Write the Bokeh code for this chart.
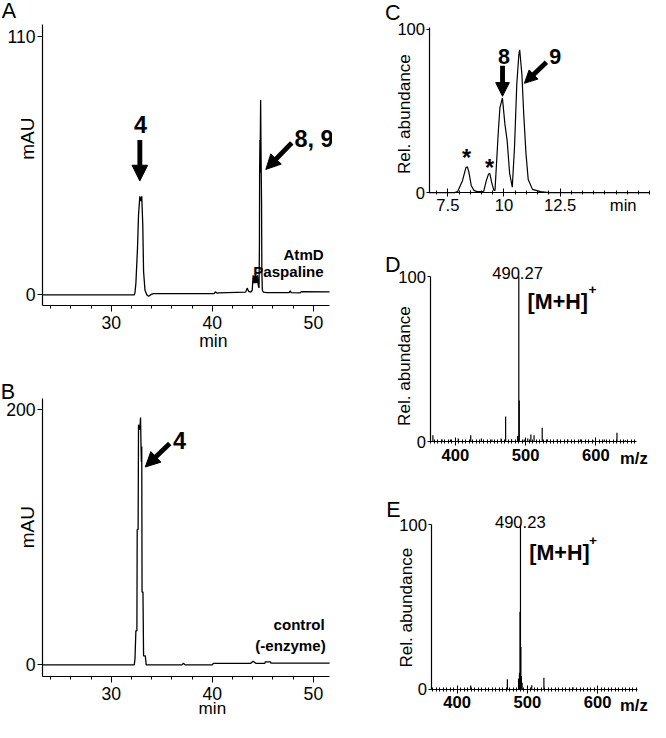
import math
from bokeh.plotting import figure
from bokeh.layouts import row, column
from bokeh.models import Range1d, FixedTicker, Label, Arrow, NormalHead
from bokeh.embed import file_html
from bokeh.resources import INLINE

S = 650 / 666
FONT = "Liberation Sans"

# ---------------- data ----------------
# Panel A: AtmD + paspaline HPLC trace (min, mAU)
a_time = [23.2, 32.28, 32.35, 32.44, 32.6, 32.7, 32.83, 32.92, 33.02, 33.12, 33.2, 33.34, 33.53, 33.7, 33.95,
          34.2, 40.2, 40.3, 40.45, 40.6, 43.3, 43.45, 43.6, 43.8, 43.95, 44.04, 44.12, 44.2, 44.27, 44.35, 44.42,
          44.46, 44.55, 44.62, 44.66, 44.68, 44.71, 44.73, 44.75, 44.78, 44.81, 44.84, 44.87, 44.9, 44.95, 45.05,
          45.4, 47.6, 47.7, 47.8, 48.7, 48.8, 51.6]
a_mau = [0.0, 0.0, 1.0, 5.0, 20.0, 34.0, 42.0, 40.0, 42.0, 30.0, 10.0, 2.0, 0.0, -0.6, 0.2,
         0.6, 0.6, 1.3, 0.8, 0.9, 1.2, 2.9, 1.5, 1.2, 2.0, 8.4, 5.0, 8.0, 5.0, 8.0, 5.0,
         8.4, 4.0, 3.0, 20.0, 52.0, 66.0, 52.0, 66.0, 83.0, 66.0, 52.0, 40.0, 10.0, 2.0, 1.2,
         1.0, 1.0, 1.8, 1.0, 0.9, 1.4, 1.3]

# Panel B: control (-enzyme) HPLC trace (min, mAU)
b_time = [23.2, 32.28, 32.35, 32.44, 32.54, 32.57, 32.66, 32.7, 32.83, 32.9, 32.95, 32.98, 33.02, 33.05, 33.14,
          33.2, 33.37, 33.46, 37.0, 37.15, 37.3, 40.0, 40.1, 43.8, 44.04, 44.3, 45.2, 45.25, 45.75, 45.8, 51.6]
b_mau = [0.0, 0.0, 4.6, 26.7, 26.7, 106.0, 106.0, 188.0, 184.0, 193.6, 171.0, 159.0, 171.0, 57.0, 57.0,
         7.0, 7.0, 0.0, 0.0, 1.3, 0.0, 0.0, 1.2, 1.2, 2.8, 1.2, 1.2, 2.4, 2.4, 1.3, 1.3]

# Panel C: extracted ion chromatogram (min, relative abundance)
c_time = [6.66, 7.8, 7.93, 8.15, 8.3, 8.37, 8.44, 8.54, 8.66, 8.8, 9.05, 9.1, 9.21, 9.31, 9.37, 9.45, 9.55,
          9.6, 9.75, 9.82, 9.93, 10.04, 10.14, 10.25, 10.37, 10.47, 10.57, 10.66, 10.7, 10.8, 10.88, 10.98,
          11.08, 11.27, 11.63, 12.0, 16.49]
c_abund = [0.0, 0.0, 0.6, 7.3, 15.2, 15.8, 12.3, 4.4, 1.4, 0.6, 0.6, 1.0, 7.3, 11.3, 11.7, 6.3, 1.4,
           1.4, 38.0, 52.0, 57.9, 42.0, 32.0, 12.0, 3.3, 28.0, 66.0, 84.0, 87.3, 72.0, 48.0, 24.0,
           8.0, 2.0, 0.6, 0.0, 0.0]

# Panel D: mass spectrum (m/z, relative abundance)
d_mz = [368, 381, 393, 404, 421.8, 437, 452, 465, 471.5, 480, 488.6, 490.27, 490.9, 498, 503, 507.4, 512,
        523.6, 531, 545, 560, 578, 596, 612, 630, 642]
d_rel = [4, 1.5, 1.5, 2, 4, 2, 1.5, 2, 15.4, 1.5, 3.5, 100, 25, 1.5, 2, 4.5, 4,
         8.5, 1.5, 1.5, 1.5, 1.5, 1, 1.5, 5.5, 1]

# Panel E: mass spectrum (m/z, relative abundance)
e_mz = [419.4, 471.6, 487.5, 488.8, 489.6, 490.23, 490.8, 491.6, 492.6, 506.3, 523.6, 565]
e_rel = [2.2, 6, 6.5, 10, 47, 100, 25.7, 8, 4, 2.5, 7, 1.2]

# ticks
ab_xticks = [30, 40, 50]
ab_xminor = [24, 26, 28, 32, 34, 36, 38, 42, 44, 46, 48, 50]
a_yticks = [0, 110]
b_yticks = [0, 200]
c_xticks = [7.5, 10, 12.5]
c_xminor = [7.0 + 0.5 * i for i in range(20)]
c_yticks = [0, 100]
ms_xticks = [400, 500, 600]
ms_xminor = list(range(365, 660, 5))
ms_yticks = [0, 100]


def fs(px):
    return f"{px * S:.1f}px"


class Panel:
    """A figure whose frame fills its whole box; the axes are pinned inside it."""

    def __init__(self, box, frame, xr, yr):
        self.frame = frame
        self.xr = xr
        self.yr = yr
        bx0, by0, bx1, by1 = box
        X0, Y0, X1, Y1 = [round(v * S) for v in box]
        p = figure(width=X1 - X0, height=Y1 - Y0,
                   x_range=Range1d(self.dx(bx0), self.dx(bx1)),
                   y_range=Range1d(self.dy(by1), self.dy(by0)),
                   output_backend="svg", toolbar_location=None,
                   min_border_left=0, min_border_right=0,
                   min_border_top=0, min_border_bottom=0)
        p.xgrid.visible = False
        p.ygrid.visible = False
        p.outline_line_color = None
        p.background_fill_color = "white"
        p.border_fill_color = "white"
        xa, ya = p.xaxis[0], p.yaxis[0]
        xa.fixed_location = yr[0]
        xa.bounds = (xr[0], xr[1])
        ya.fixed_location = xr[0]
        ya.bounds = (yr[0], yr[1])
        for ax in (xa, ya):
            ax.axis_line_color = "black"
            ax.axis_line_width = 1.2
            ax.major_tick_line_color = "black"
            ax.minor_tick_line_color = "black"
            ax.major_label_text_font = FONT
            ax.major_label_text_color = "black"
        self.p = p

    def dx(self, px):
        L, T, R, B = self.frame
        return self.xr[0] + (px - L) / (R - L) * (self.xr[1] - self.xr[0])

    def dy(self, py):
        L, T, R, B = self.frame
        return self.yr[0] + (B - py) / (B - T) * (self.yr[1] - self.yr[0])

    def label(self, px, py, text, size, bold=False, align="center", baseline="middle", angle=0, color="black"):
        self.p.add_layout(Label(x=self.dx(px), y=self.dy(py), text=text, text_font=FONT,
                                text_font_size=fs(size), text_font_style="bold" if bold else "normal",
                                text_align=align, text_baseline=baseline, angle=angle, text_color=color))

    def arrow(self, p0, p1, lw, head):
        self.p.add_layout(Arrow(end=NormalHead(size=head * S, fill_color="black", line_color="black", line_width=1),
                                x_start=self.dx(p0[0]), y_start=self.dy(p0[1]),
                                x_end=self.dx(p1[0]), y_end=self.dy(p1[1]),
                                line_width=lw * S, line_color="black"))


def style_axes(pan, xt, xm, yt, tick_size, x_out, x_in, xm_out, xm_in, x_stand, y_out, y_stand):
    p = pan.p
    xa, ya = p.xaxis[0], p.yaxis[0]
    xa.ticker = FixedTicker(ticks=xt, minor_ticks=xm)
    ya.ticker = FixedTicker(ticks=yt, minor_ticks=[])
    xa.major_label_text_font_size = fs(tick_size)
    ya.major_label_text_font_size = fs(tick_size)
    xa.major_tick_out = x_out
    xa.major_tick_in = x_in
    xa.minor_tick_out = xm_out
    xa.minor_tick_in = xm_in
    xa.major_label_standoff = x_stand
    ya.major_tick_out = y_out
    ya.major_tick_in = 0
    ya.minor_tick_out = 0
    ya.major_label_standoff = y_stand


# ---------------- Panel A ----------------
A = Panel((0, 0, 340, 360), (43, 25, 337, 313), (23.2, 51.6), (-4.57, 114.98))
style_axes(A, ab_xticks, ab_xminor, a_yticks, 18, 6, 0, 3, 0, 4, 5, 2)
A.p.line(a_time, a_mau, line_color="black", line_width=1.3)
A.label(8.5, 11, "A", 22)
A.label(27.5, 141.7, "mAU", 19.5, angle=math.pi / 2)
A.label(218, 349, "min", 18)
A.label(143.3, 126.7, "4", 24, bold=True)
A.arrow((142.7, 143), (142.7, 185), 5, 16)
A.label(301, 142.5, "8, 9", 24, bold=True, align="left")
A.arrow((298.3, 146), (271.7, 173.3), 5, 15)
A.label(331, 261, "AtmD", 15.5, bold=True, align="right", baseline="alphabetic")
A.label(331, 278, "Paspaline", 15.5, bold=True, align="right", baseline="alphabetic")

# ---------------- Panel B ----------------
B = Panel((0, 360, 340, 738), (43, 408, 337, 693), (23.2, 51.6), (-9.17, 208.6))
style_axes(B, ab_xticks, ab_xminor, b_yticks, 18, 6, 0, 3, 0, 4, 5, 2)
B.p.line(b_time, b_mau, line_color="black", line_width=1.3)
B.label(7.5, 401, "B", 22)
B.label(27.5, 540, "mAU", 19.5, angle=math.pi / 2)
B.label(217, 726, "min", 17.5)
B.label(183.3, 451, "4", 24, bold=True)
B.arrow((173.3, 454.3), (148.3, 478.3), 5, 15)
B.label(332, 640, "control", 15.5, bold=True, align="right", baseline="alphabetic")
B.label(333, 661, "(-enzyme)", 15.5, bold=True, align="right", baseline="alphabetic")

# ---------------- Panel C ----------------
C = Panel((340, 0, 666, 230), (439, 28, 665, 197.3), (6.661, 16.487), (0, 100.77))
style_axes(C, c_xticks, c_xminor, c_yticks, 17, 4, 4, 2, 2, 2, 3, 1)
C.p.line(c_time, c_abund, line_color="black", line_width=1.2)
C.label(401.7, 12.5, "C", 22)
C.label(414, 116.7, "Rel. abundance", 17.5, angle=math.pi / 2)
C.label(638, 210.5, "min", 17)
C.label(515.7, 57.5, "8", 22, bold=True)
C.arrow((514.3, 67), (514.3, 98.3), 5, 14)
C.label(568.3, 57.5, "9", 22, bold=True)
C.arrow((559.3, 63.3), (536.7, 85), 5, 13)
C.label(477.5, 161.7, "*", 24, bold=True)
C.label(501, 171.7, "*", 24, bold=True)

# ---------------- Panel D ----------------
D = Panel((340, 230, 666, 480), (440, 283, 652, 452.7), (363.9, 658.3), (0, 100.18))
style_axes(D, ms_xticks, ms_xminor, ms_yticks, 17, 4, 4, 2, 2, 3, 3, 1)
D.p.segment(x0=d_mz, y0=[0] * len(d_mz), x1=d_mz, y1=d_rel, line_color="black", line_width=1.2)
D.label(401.7, 271, "D", 22)
D.label(414, 375, "Rel. abundance", 17.5, angle=math.pi / 2)
D.label(649, 470, "m/z", 17, bold=True)
D.label(529.7, 280, "490.27", 17, baseline="alphabetic")
D.label(540, 309, "[M+H]", 22, bold=True, align="left", baseline="alphabetic")
D.label(606.5, 297, "+", 14, bold=True)

# ---------------- Panel E ----------------
E = Panel((340, 480, 666, 738), (441, 537, 653, 706), (362.9, 657.3), (0, 100.2))
style_axes(E, ms_xticks, ms_xminor, ms_yticks, 17, 4, 4, 2, 2, 3, 3, 1)
E.p.segment(x0=e_mz, y0=[0] * len(e_mz), x1=e_mz, y1=e_rel, line_color="black", line_width=1.2)
E.label(402.5, 522, "E", 22)
E.label(415.8, 622.5, "Rel. abundance", 17.5, angle=math.pi / 2)
E.label(649, 723, "m/z", 17, bold=True)
E.label(532.5, 535, "490.23", 17, baseline="alphabetic")
E.label(541.7, 566, "[M+H]", 22, bold=True, align="left", baseline="alphabetic")
E.label(607, 554, "+", 14, bold=True)

for pan in (D, E):
    pan.p.xaxis[0].major_label_text_font_style = "bold"

layout = row(column(A.p, B.p), column(C.p, D.p, E.p))
open("out.html", "w").write(file_html(layout, INLINE))
